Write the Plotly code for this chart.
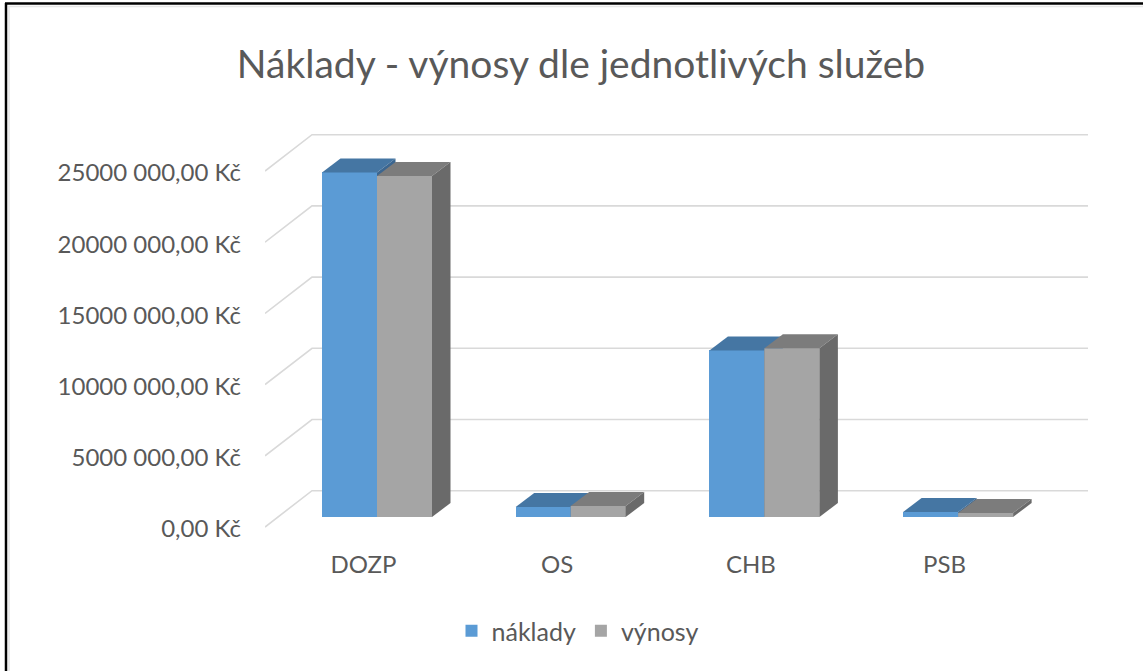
import plotly.graph_objects as go

# ---------------- data ----------------
categories = ["DOZP", "OS", "CHB", "PSB"]
naklady = [24_200_000, 700_000, 11_700_000, 350_000]
vynosy = [23_950_000, 770_000, 11_850_000, 280_000]
tick_values = [0, 5_000_000, 10_000_000, 15_000_000, 20_000_000, 25_000_000]
tick_labels = ["0,00 Kč", "5000 000,00 Kč", "10000 000,00 Kč",
               "15000 000,00 Kč", "20000 000,00 Kč", "25000 000,00 Kč"]

# ---------------- geometry / style ----------------
W, H = 1143, 671
L, R, T, B = 265, 43, 120, 131
PX_PER_CAT = 193.7
PX_PER_UNIT = 14.24e-6
CENTER0_PX = 377
ZERO_PX = 517

x_range = [(L - CENTER0_PX) / PX_PER_CAT, (W - R - CENTER0_PX) / PX_PER_CAT]
y_range = [(ZERO_PX - (H - B)) / PX_PER_UNIT, (ZERO_PX - T) / PX_PER_UNIT]

bar_w = 55 / PX_PER_CAT
ddx = 18.5 / PX_PER_CAT
ddv = 14 / PX_PER_UNIT

BLUE, BLUE_TOP, BLUE_SIDE = "#5b9bd5", "#4576a3", "#3b6690"
GRAY, GRAY_TOP, GRAY_SIDE = "#a5a5a5", "#7c7c7c", "#6a6a6a"
TXT = "#595959"
FONT = "Lato"

fig = go.Figure()
idx = list(range(len(categories)))
fig.add_trace(go.Bar(x=idx, y=naklady, width=bar_w, offset=-bar_w, name="náklady",
                     marker=dict(color=BLUE, line=dict(width=0)), hoverinfo="skip"))
fig.add_trace(go.Bar(x=idx, y=vynosy, width=bar_w, offset=0, name="výnosy",
                     marker=dict(color=GRAY, line=dict(width=0)), hoverinfo="skip"))


def poly(pts):
    return "M " + " L ".join(f"{x},{y}" for x, y in pts) + " Z"


shapes = []
# back-wall gridlines with slanted side wall part
gf_dv = -10 / PX_PER_UNIT
gb_dv = 26.3 / PX_PER_UNIT
gb_dx = 47 / PX_PER_CAT
x_right = (1088 - CENTER0_PX) / PX_PER_CAT
for v in tick_values:
    shapes.append(dict(type="path", xref="x", yref="y", layer="below",
                       path=f"M {x_range[0]},{v + gf_dv} L {x_range[0] + gb_dx},{v + gb_dv} L {x_right},{v + gb_dv}",
                       line=dict(color="#d9d9d9", width=1.6)))

# 3D faces (top / side) of the bars
for i in idx:
    x0 = i - bar_w
    x1 = i
    x2 = i + bar_w
    vn = naklady[i]
    vv = vynosy[i]
    for pts, col in [
        ([(x0, vn), (x1, vn), (x1 + ddx, vn + ddv), (x0 + ddx, vn + ddv)], BLUE_TOP),
        ([(x1, 0), (x1, vn), (x1 + ddx, vn + ddv), (x1 + ddx, ddv)], BLUE_SIDE),
        ([(x1, 0), (x2, 0), (x2, vv), (x1, vv)], GRAY),
        ([(x1, vv), (x2, vv), (x2 + ddx, vv + ddv), (x1 + ddx, vv + ddv)], GRAY_TOP),
        ([(x2, 0), (x2, vv), (x2 + ddx, vv + ddv), (x2 + ddx, ddv)], GRAY_SIDE),
    ]:
        shapes.append(dict(type="path", xref="x", yref="y", layer="above",
                           path=poly(pts), fillcolor=col, line=dict(width=0)))

# outer frame (top and left edges visible)
pw, ph = W - L - R, H - T - B
def px2paper_x(px):
    return (px - L) / pw
def py2paper_y(py):
    return (H - B - py) / ph
shapes.append(dict(type="line", xref="paper", yref="paper",
                   x0=px2paper_x(6), x1=px2paper_x(6), y0=py2paper_y(3), y1=py2paper_y(H),
                   line=dict(color="black", width=2.5)))
shapes.append(dict(type="line", xref="paper", yref="paper",
                   x0=px2paper_x(5), x1=px2paper_x(W), y0=py2paper_y(3.5), y1=py2paper_y(3.5),
                   line=dict(color="black", width=2.5)))
# faint inner edge next to the frame
shapes.append(dict(type="line", xref="paper", yref="paper",
                   x0=px2paper_x(9), x1=px2paper_x(9), y0=py2paper_y(6), y1=py2paper_y(H),
                   line=dict(color="#e6e6e6", width=1.5)))
shapes.append(dict(type="line", xref="paper", yref="paper",
                   x0=px2paper_x(8), x1=px2paper_x(W), y0=py2paper_y(6.5), y1=py2paper_y(6.5),
                   line=dict(color="#e6e6e6", width=1.5)))

fig.update_layout(
    width=W, height=H,
    margin=dict(l=L, r=R, t=T, b=B, autoexpand=False),
    paper_bgcolor="white", plot_bgcolor="white",
    shapes=shapes,
    showlegend=True,
    legend=dict(orientation="h", x=0.5 + 6 / W, xref="container", xanchor="center",
                y=py2paper_y(631), yanchor="middle",
                font=dict(family=FONT, size=25, color=TXT), itemwidth=30),
    title=dict(text="Náklady - výnosy dle jednotlivých služeb",
               x=581 / W, xref="container", xanchor="center",
               y=1 - 64 / H, yref="container", yanchor="middle",
               font=dict(family=FONT, size=39, color=TXT)),
    xaxis=dict(range=x_range, tickvals=[i - 0.07 for i in idx], ticktext=categories,
               showgrid=False, zeroline=False, showline=False, ticks="",
               ticklabelstandoff=8,
               tickfont=dict(family=FONT, size=24, color=TXT), fixedrange=True),
    yaxis=dict(range=y_range, tickvals=[v - 12 / PX_PER_UNIT for v in tick_values],
               ticktext=tick_labels, showgrid=False, zeroline=False, showline=False,
               ticks="", ticklabelstandoff=23,
               tickfont=dict(family=FONT, size=24, color=TXT), fixedrange=True),
    bargap=0,
)

fig.write_html("out.html", config={"displayModeBar": False},
               post_script="document.documentElement.style.overflow='hidden';document.body.style.margin='0px';document.body.style.overflow='hidden';")
